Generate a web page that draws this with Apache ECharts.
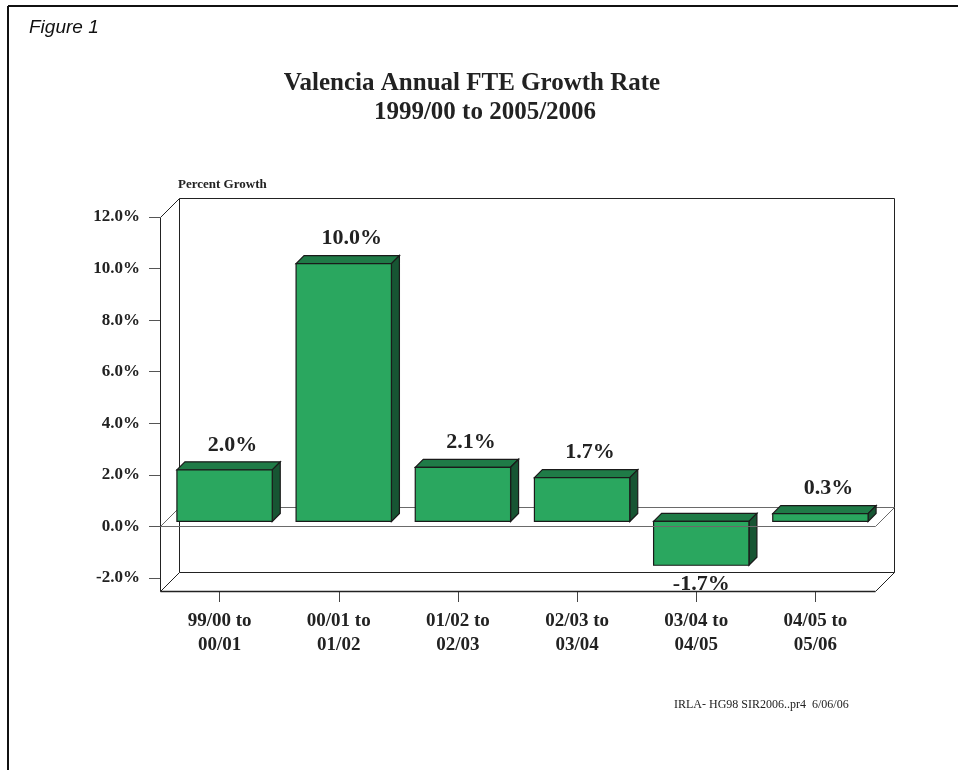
<!DOCTYPE html>
<html>
<head>
<meta charset="utf-8">
<title>Valencia Annual FTE Growth Rate</title>
<style>
  html, body { margin: 0; padding: 0; background: #fff; }
  #main { width: 958px; height: 770px; }
</style>
</head>
<body>
<div id="main"></div>
<script src="https://cdn.jsdelivr.net/npm/echarts@6/dist/echarts.min.js"></script>
<script>
// 数据
var categories = ['99/00 to\n00/01', '00/01 to\n01/02', '01/02 to\n02/03', '02/03 to\n03/04', '03/04 to\n04/05', '04/05 to\n05/06'];
var growth = [2.0, 10.0, 2.1, 1.7, -1.7, 0.3];
var yMin = -2, yMax = 12, yStep = 2;
var floorValue = -2.5;   // 地板前沿

var SERIF = '"Liberation Serif", "Times New Roman", serif';
var DEPTH = 19;   // 背景墙深度
var F = 5;        // 柱子前面偏移
var BD = 8;       // 柱子厚度

var chart = echarts.init(document.getElementById('main'));

function px(v) { return Math.round(v) + 0.5; }

function line(x1, y1, x2, y2, color, w) {
  return { type: 'line', shape: { x1: px(x1), y1: px(y1), x2: px(x2), y2: px(y2) },
    style: { stroke: color, lineWidth: w || 1 } };
}

// 背景框架
function renderFrame(params, api) {
  var cs = params.coordSys;
  var L = cs.x, R = cs.x + cs.width;
  var yTop = api.coord([0, yMax])[1];
  var yFloor = api.coord([0, floorValue])[1];
  var y0 = api.coord([0, 0])[1];
  var D = DEPTH, dark = '#222', grey = '#6a6a6a';
  return { type: 'group', children: [
    line(L + D, yTop - D, R + D, yTop - D, dark),
    line(R + D, yTop - D, R + D, yFloor - D, dark),
    line(L + D, yTop - D, L + D, yFloor - D, dark),
    line(L + D, yFloor - D, R + D, yFloor - D, dark),
    line(L, yTop, L, yFloor, dark),
    line(L, yTop, L + D, yTop - D, dark),
    line(L, yFloor, L + D, yFloor - D, dark),
    line(L, yFloor, R, yFloor, dark, 1.5),
    line(R, yFloor, R + D, yFloor - D, dark),
    line(L + D, y0 - D, R + D, y0 - D, grey),
    line(L, y0, L + D, y0 - D, grey),
    line(R, y0, R + D, y0 - D, grey)
  ] };
}

// 零平面前沿，画在柱子前面
function renderZeroFront(params, api) {
  var cs = params.coordSys;
  var y0 = api.coord([0, 0])[1];
  return line(cs.x, y0, cs.x + cs.width, y0, '#6a6a6a');
}

// 立体柱子
function renderBar(params, api) {
  var i = api.value(0), v = api.value(1);
  var c0 = api.coord([i, 0]);
  var c1 = api.coord([i, v]);
  var w = api.size([1, 0])[0] * 0.8;
  var xl = c0[0] - w / 2 + F, xr = c0[0] + w / 2 + F;
  var yt = Math.min(c0[1], c1[1]) - F, yb = Math.max(c0[1], c1[1]) - F;
  var stroke = { stroke: '#1a1a1a', lineWidth: 1.2 };
  var label = v.toFixed(1) + '%';
  var lx = v >= 0 ? c0[0] + F + 8 : c0[0] + F;
  var ly = v >= 0 ? yt - 25 : yb + 19;
  return { type: 'group', children: [
    { type: 'polygon', shape: { points: [[xl, yt], [xr, yt], [xr + BD, yt - BD], [xl + BD, yt - BD]] },
      style: Object.assign({ fill: '#1f7b47' }, stroke) },
    { type: 'polygon', shape: { points: [[xr, yt], [xr + BD, yt - BD], [xr + BD, yb - BD], [xr, yb]] },
      style: Object.assign({ fill: '#175533' }, stroke) },
    { type: 'rect', shape: { x: xl, y: yt, width: xr - xl, height: yb - yt },
      style: Object.assign({ fill: '#2aa75f' }, stroke) },
    { type: 'text', z2: 10, style: { text: label, x: lx, y: ly, align: 'center', verticalAlign: 'middle',
      font: 'bold 22px ' + SERIF, fill: '#222' } }
  ] };
}

var option = {
  animation: false,
  backgroundColor: '#fff',
  graphic: [
    { type: 'line', shape: { x1: 8, y1: 6, x2: 958, y2: 6 }, style: { stroke: '#111', lineWidth: 2 } },
    { type: 'line', shape: { x1: 8, y1: 6, x2: 8, y2: 770 }, style: { stroke: '#111', lineWidth: 2 } },
    { type: 'text', left: 29, top: 18, style: { text: 'Figure 1', font: 'italic 19px "Liberation Sans", Arial, sans-serif', fill: '#111' } },
    { type: 'text', x: 472, y: 84, style: { text: 'Valencia Annual FTE Growth Rate', align: 'center', verticalAlign: 'middle',
      font: 'bold 25px ' + SERIF, fill: '#222' } },
    { type: 'text', x: 485, y: 113, style: { text: '1999/00 to 2005/2006', align: 'center', verticalAlign: 'middle',
      font: 'bold 25px ' + SERIF, fill: '#222' } },
    { type: 'text', x: 178, y: 185, style: { text: 'Percent Growth', verticalAlign: 'middle',
      font: 'bold 13px ' + SERIF, fill: '#222' } },
    { type: 'text', x: 674, y: 705, style: { text: 'IRLA- HG98 SIR2006..pr4  6/06/06', verticalAlign: 'middle',
      font: '12px ' + SERIF, fill: '#222' } }
  ],
  grid: { left: 160, right: 83, top: 217, bottom: 192 },
  xAxis: {
    type: 'category',
    data: categories,
    offset: 13,
    axisLine: { show: false, onZero: false },
    axisTick: { show: true, alignWithLabel: true, length: 11, lineStyle: { color: '#444' } },
    axisLabel: { margin: 18, fontFamily: SERIF, fontWeight: 'bold', fontSize: 19,
      lineHeight: 24, color: '#222', interval: 0 },
    splitLine: { show: false }
  },
  yAxis: {
    type: 'value',
    min: yMin, max: yMax, interval: yStep,
    axisLine: { show: false },
    axisTick: { show: true, length: 11, lineStyle: { color: '#555' } },
    axisLabel: { margin: 20, fontFamily: SERIF, fontWeight: 'bold', fontSize: 17, color: '#222',
      formatter: function (v) { return v.toFixed(1) + '%'; } },
    splitLine: { show: false }
  },
  series: [
    { type: 'custom', renderItem: renderFrame, data: [[0, 0]], z: 1, silent: true },
    { type: 'custom', renderItem: renderBar, z: 2,
      data: growth.map(function (v, i) { return [i, v]; }) },
    { type: 'custom', renderItem: renderZeroFront, data: [[0, 0]], z: 3, silent: true }
  ]
};

chart.setOption(option);
</script>
</body>
</html>
